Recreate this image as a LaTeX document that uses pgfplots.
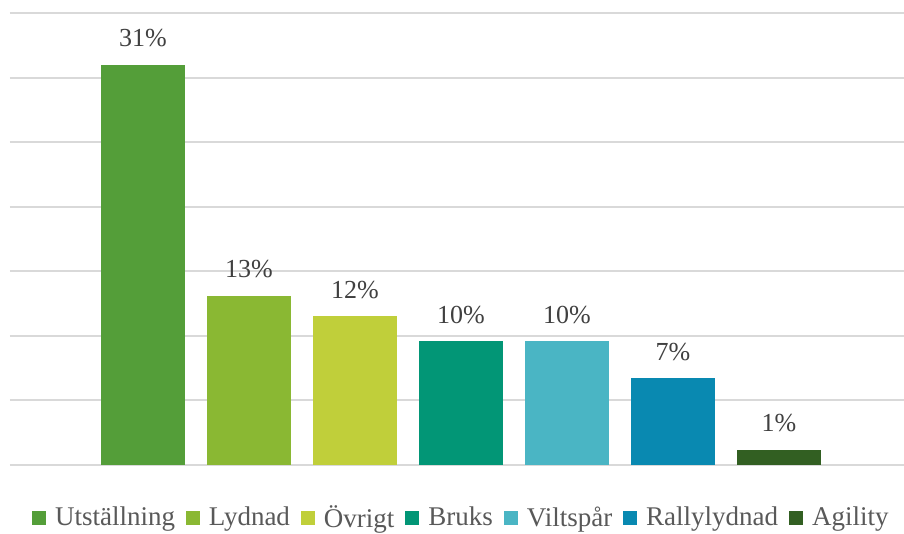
\documentclass[border=0pt]{standalone}
\usepackage{fontspec}
\setmainfont{Liberation Serif}
\usepackage{pgfplots}
\pgfplotsset{compat=1.18}

\definecolor{cA}{HTML}{549E39}
\definecolor{cB}{HTML}{8AB833}
\definecolor{cC}{HTML}{C0CF3A}
\definecolor{cD}{HTML}{029676}
\definecolor{cE}{HTML}{4AB5C4}
\definecolor{cF}{HTML}{0989B1}
\definecolor{cG}{HTML}{325F22}
\definecolor{gridc}{HTML}{D9D9D9}
\definecolor{lblc}{HTML}{404040}
\definecolor{legc}{HTML}{595959}

\begin{document}
\begin{tikzpicture}
\useasboundingbox (-5bp,-34.5bp) rectangle (447bp,232.5bp);
\begin{axis}[
  scale only axis, width=447bp, height=226bp,
  xmin=-1.2547, xmax=7.179, ymin=0, ymax=35,
  ytick={0,5,...,35}, yticklabels={}, xtick=\empty,
  major tick length=0pt,
  ymajorgrids, grid style={gridc, line width=1bp},
  axis line style={draw=none},
  every axis plot/.append style={ybar, bar width=42bp, bar shift=0pt, draw=none},
  point meta=explicit symbolic, nodes near coords,
  every node near coord/.style={anchor=base, yshift=9bp, inner sep=0pt,
    font=\fontsize{13bp}{15bp}\selectfont, text=lblc},
  legend columns=7,
  legend image code/.code={\fill[#1] (0bp,-3.5bp) rectangle (7bp,3.5bp);},
  legend style={draw=none, at={(0.506,-0.117)}, anchor=center,
    font=\fontsize{13.5bp}{15bp}\selectfont, text=legc,
    /tikz/every odd column/.append style={column sep=2.5bp},
    /tikz/every even column/.append style={column sep=3.5bp},
    inner sep=0pt},
]
\addplot[fill=cA] coordinates {(0,31.0) [31\%]};
\addplot[fill=cB] coordinates {(1,13.1) [13\%]};
\addplot[fill=cC] coordinates {(2,11.5) [12\%]};
\addplot[fill=cD] coordinates {(3,9.6) [10\%]};
\addplot[fill=cE] coordinates {(4,9.6) [10\%]};
\addplot[fill=cF] coordinates {(5,6.7) [7\%]};
\addplot[fill=cG] coordinates {(6,1.2) [1\%]};
\legend{Utställning, Lydnad, Övrigt, Bruks, Viltspår, Rallylydnad, Agility}
\end{axis}
\end{tikzpicture}
\end{document}
